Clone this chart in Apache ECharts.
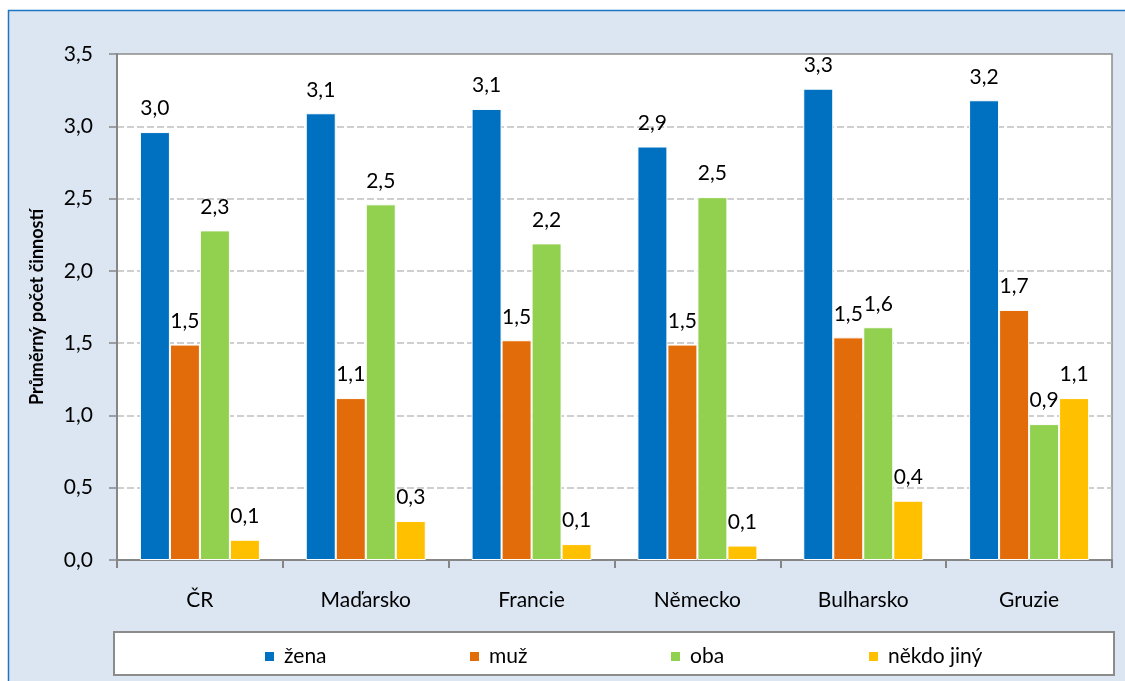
<!DOCTYPE html>
<html>
<head>
<meta charset="utf-8">
<script src="https://cdn.jsdelivr.net/npm/echarts@6/dist/echarts.min.js"></script>
<style>
html,body{margin:0;padding:0;background:#fff;}
#c{width:1125px;height:681px;}
</style>
</head>
<body>
<div id="c"></div>
<script>
const categories = ['ČR', 'Maďarsko', 'Francie', 'Německo', 'Bulharsko', 'Gruzie'];
const seriesNames = ['žena', 'muž', 'oba', 'někdo jiný'];
const zena = [2.96, 3.09, 3.12, 2.86, 3.26, 3.18];
const muz = [1.49, 1.12, 1.52, 1.49, 1.54, 1.73];
const oba = [2.28, 2.46, 2.19, 2.51, 1.61, 0.94];
const nekdo = [0.14, 0.27, 0.11, 0.10, 0.41, 1.12];
const yTicks = [0, 0.5, 1, 1.5, 2, 2.5, 3, 3.5];
const yTitle = 'Průměrný počet činností';

const colors = ['#0070c0', '#e36c0a', '#92d050', '#ffc000'];
const values = [zena, muz, oba, nekdo];
const FONT = 'Lato';
const fmt = v => Number(v).toFixed(1).replace('.', ',');

const chart = echarts.init(document.getElementById('c'), null, {renderer: 'canvas'});

const legendLefts = [258, 463, 664, 862];

const option = {
  backgroundColor: '#ffffff',
  animation: false,
  textStyle: {fontFamily: FONT},
  graphic: {
    z: -1,
    elements: [
      {type: 'rect', z: -10, shape: {x: 8.5, y: 10.5, width: 1130, height: 690},
       style: {fill: '#dce6f2', stroke: '#1f74c4', lineWidth: 1.5}},
      {type: 'rect', z: -9, shape: {x: 114, y: 632, width: 1000, height: 43},
       style: {fill: '#ffffff', stroke: '#8c8c8c', lineWidth: 2}}
    ]
  },
  grid: {
    left: 117, right: 13, top: 54, bottom: 121,
    show: true, backgroundColor: '#ffffff', borderColor: '#8c8c8c', borderWidth: 1.5, z: 0
  },
  legend: seriesNames.map((n, i) => ({
    data: [n],
    left: legendLefts[i],
    top: 641,
    icon: 'rect',
    itemWidth: 11,
    itemHeight: 11,
    itemGap: 0,
    selectedMode: false,
    textStyle: {fontFamily: FONT, fontSize: 21, color: '#000', padding: [0, 0, 0, 4]}
  })),
  xAxis: {
    type: 'category',
    data: categories,
    axisLine: {lineStyle: {color: '#868686', width: 2}},
    axisTick: {show: true, alignWithLabel: false, length: 8, lineStyle: {color: '#868686', width: 2}},
    axisLabel: {fontFamily: FONT, fontSize: 21, color: '#000', margin: 30}
  },
  yAxis: {
    type: 'value',
    min: 0, max: 3.5, interval: 0.5,
    name: yTitle,
    nameLocation: 'middle',
    nameGap: 71,
    nameRotate: 90,
    nameTextStyle: {fontFamily: FONT, fontSize: 18, fontWeight: 'bold', color: '#000'},
    axisLine: {show: true, lineStyle: {color: '#868686', width: 2}},
    axisTick: {show: true, length: 8, lineStyle: {color: '#868686', width: 1.5}},
    axisLabel: {fontFamily: FONT, fontSize: 21, color: '#000', margin: 24,
      formatter: v => yTicks.indexOf(v) >= 0 ? fmt(v) : ''},
    splitLine: {show: true, showMaxLine: false, showMinLine: false,
      lineStyle: {color: '#c0c0c0', width: 1.5, type: [7, 3]}}
  },
  series: seriesNames.map((n, i) => ({
    name: n,
    type: 'bar',
    data: values[i],
    barWidth: 30,
    barGap: '0%',
    itemStyle: {color: colors[i], borderColor: '#ffffff', borderWidth: 1},
    label: {
      show: true, position: 'top', distance: 13,
      fontFamily: FONT, fontSize: 21, color: '#000',
      formatter: p => fmt(p.value)
    }
  }))
};
chart.setOption(option);
</script>
</body>
</html>
